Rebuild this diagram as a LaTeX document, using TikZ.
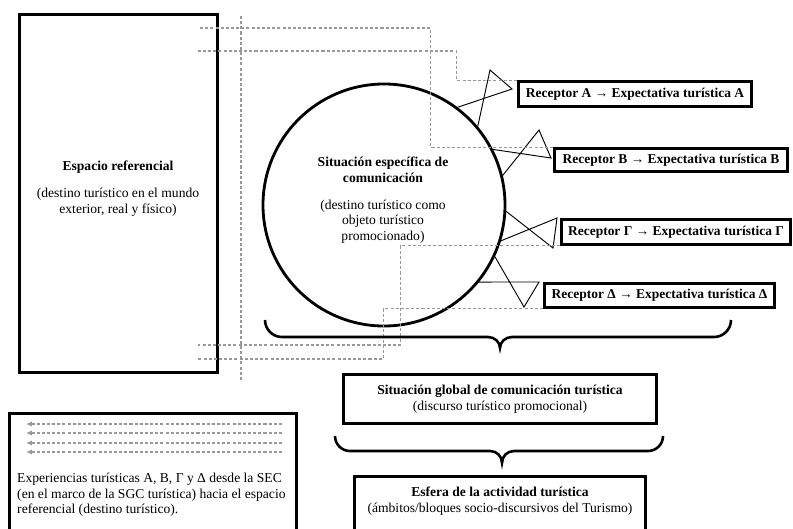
\documentclass[tikz,border=0pt]{standalone}
\usepackage{fontspec}
\setmainfont{Liberation Serif}
\usetikzlibrary{arrows.meta}

\tikzset{
  boxframe/.style={draw, line width=2.4pt, inner sep=0pt},
  recbox/.style={boxframe, font=\fontsize{11.5}{13.5}\selectfont\bfseries},
  expline/.style={draw=black!40, line width=1pt, dash pattern=on 2.6pt off 1.8pt},
  antenna/.style={line width=0.8pt},
  bracepath/.style={line width=2.2pt},
}

\begin{document}
\begin{tikzpicture}[x=0.03cm, y=-0.03cm, font=\fontsize{11.6}{13.2}\selectfont]
    \useasboundingbox (0,0) rectangle (793,528);
    \clip (0,0) rectangle (793,528);

    \node[boxframe, minimum width=5.94cm, minimum height=10.74cm] (esp) at (118.5,193.5) {};
    \node[align=center, font=\fontsize{11.6}{14.5}\selectfont] (espT) at (118,189)
      {\textbf{Espacio referencial}\\[8pt](destino turístico en el mundo\\exterior, real y físico)};

    \node[circle, draw, line width=2.4pt, minimum size=7.26cm, inner sep=0pt] (sec) at (384,205) {};
    \node[align=center] (secT) at (383,200)
      {\textbf{Situación específica de}\\\textbf{comunicación}\\[10pt](destino turístico como\\objeto turístico\\promocionado)};

    \node[recbox, minimum width=6.99cm, minimum height=0.75cm] (recA) at (635,94) {Receptor A → Expectativa turística A};
    \node[recbox, minimum width=6.99cm, minimum height=0.69cm] (recB) at (671,160) {Receptor B → Expectativa turística B};
    \node[recbox, minimum width=6.87cm, minimum height=0.75cm] (recG) at (676,232) {Receptor Γ → Expectativa turística Γ};
    \node[recbox, minimum width=6.90cm, minimum height=0.72cm] (recD) at (659.5,295.5) {Receptor Δ → Expectativa turística Δ};

    \draw[antenna] (sec.53) -- (512,89) -- (490,70) -- (sec.40);
    \draw[antenna] (sec.27) -- (551,158) -- (539,130) -- (sec.14);
    \draw[antenna] (sec.-3) -- (553,248) -- (557,218) -- (sec.-17);
    \draw[antenna] (sec.-25) -- (524,307) -- (539,282) -- (sec.-39);

    \coordinate (eA) at (198,51);
    \coordinate (eB) at (198,28);
    \coordinate (eG) at (198,345);
    \coordinate (eD) at (198,359);
    \draw[expline] (recA.north west) -- ++(-61,0) |- (eA);
    \draw[expline] (recB.north west) -- ++(-123,0) |- (eB);
    \draw[expline] (recG.south west) -- ++(-160,0) |- (eG);
    \draw[expline] (recD.south west) -- ++(-160,0) |- (eD);
    \draw[expline] (241,16) -- (241,382);

    \draw[bracepath] (265,320) .. controls (265,329.4) and (272.6,337) .. (282,337) -- (488,337)
      .. controls (494.6,337) and (500,342) .. (500,348) .. controls (500,342) and (505.4,337) .. (512,337)
      -- (714,337) .. controls (723.4,337) and (731,329.4) .. (731,320);

    \node[boxframe, minimum width=9.39cm, minimum height=1.47cm, align=center] (sgc) at (500,399)
      {\textbf{Situación global de comunicación turística}\\(discurso turístico promocional)};

    \draw[bracepath] (335,436) .. controls (335,444.3) and (341.7,451) .. (350,451) -- (490,451)
      .. controls (496.6,451) and (502,456) .. (502,463) .. controls (502,456) and (507.4,451) .. (514,451)
      -- (648,451) .. controls (656.3,451) and (663,444.3) .. (663,436);

    \node[boxframe, minimum width=8.73cm, minimum height=3cm, anchor=north] (esf) at (500,475) {};
    \node[align=center] (esfT) at (500,501)
      {\textbf{Esfera de la actividad turística}\\(ámbitos/bloques socio-discursivos del Turismo)};

    \node[boxframe, minimum width=8.61cm, minimum height=4cm, anchor=north] (leg) at (153,412) {};
    \foreach \i/\y in {1/424, 2/433, 3/443, 4/452} {
      \coordinate (ls\i) at (282,\y);
      \coordinate (le\i) at (26,\y);
      \draw[expline, -{Latex[length=5pt,width=4.5pt]}] (ls\i) -- (le\i);
    }
    \node[align=left, anchor=west, inner sep=0pt] (legT) at (17,495)
      {Experiencias turísticas A, B, Γ y Δ desde la SEC\\(en el marco de la SGC turística) hacia el espacio\\referencial (destino turístico).};
  \end{tikzpicture}
\end{document}
